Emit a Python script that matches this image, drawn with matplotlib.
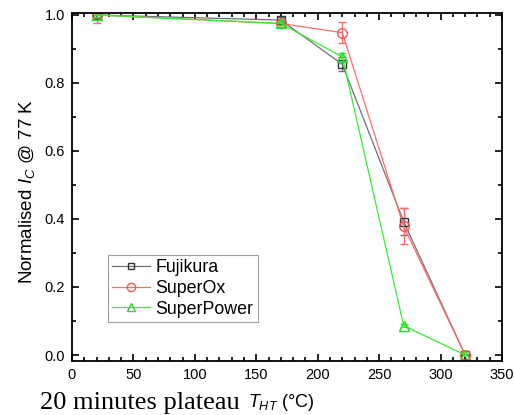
import matplotlib
matplotlib.use("Agg")
import matplotlib.pyplot as plt
from matplotlib.ticker import MultipleLocator
from matplotlib.lines import Line2D

plt.rcParams['font.family'] = ['Liberation Sans', 'DejaVu Sans']
plt.rcParams['mathtext.fontset'] = 'custom'
plt.rcParams['mathtext.it'] = 'Liberation Sans:italic'
plt.rcParams['mathtext.rm'] = 'Liberation Sans'

temps = [20, 170, 220, 270, 320]
fujikura = [1.0, 0.985, 0.855, 0.392, 0.0]
fujikura_err = [0.01, 0.01, 0.02, 0.04, 0.0]
superox = [1.0, 0.975, 0.948, 0.378, 0.0]
superox_err = [0.025, 0.01, 0.03, 0.053, 0.0]
superpower = [1.0, 0.975, 0.877, 0.086, 0.0]
superpower_err = [0.005, 0.005, 0.01, 0.005, 0.0]

names = ['Fujikura', 'SuperOx', 'SuperPower']
series = [fujikura, superox, superpower]
errors = [fujikura_err, superox_err, superpower_err]
line_colors = ['#707070', '#ff6b6b', '#33ee33']
edge_colors = ['#333333', '#ff5555', '#22dd22']
markers = ['s', 'o', '^']
sizes = [6, 7, 7]

fig = plt.figure(figsize=(5.14, 4.15), dpi=100)
ax = fig.add_axes([72/514, 1-361/415, 430/514, 348/415])

handles = []
for name, y, e, lc, ec, m, ms in zip(names, series, errors, line_colors, edge_colors, markers, sizes):
    ax.errorbar(temps, y, yerr=e, color=lc, marker=m, mfc='none', mec=ec, ms=ms, lw=0.9,
                capsize=3, elinewidth=0.9)
    handles.append(Line2D([], [], color=lc, marker=m, mfc='none', mec=ec, ms=ms - 1, lw=0.9,
                          label=name))

ax.set_xlim(0, 350)
ax.set_ylim(-6/340, 1 + 2/340)
ax.xaxis.set_major_locator(MultipleLocator(50))
ax.xaxis.set_minor_locator(MultipleLocator(10))
ax.yaxis.set_major_locator(MultipleLocator(0.2))
ax.yaxis.set_minor_locator(MultipleLocator(0.1))
ax.yaxis.set_major_formatter(plt.FuncFormatter(lambda v, p: f"{v:.1f}"))
ax.tick_params(which='both', direction='in', top=True, right=True, labelsize=10.5, width=1.2)
ax.tick_params(which='major', length=5, pad=5)
ax.tick_params(which='minor', length=3)
for s in ax.spines.values():
    s.set_linewidth(1.3)

fig.text(27/514, 1-192/415, r'Normalised $I_C$ @ 77 K', fontsize=13.5, rotation=90,
         va='center', ha='center')

leg = ax.legend(handles=handles, loc='lower left', bbox_to_anchor=(108/514, 1-322/415),
                bbox_transform=fig.transFigure, borderaxespad=0, fontsize=12.8, frameon=True,
                fancybox=False, edgecolor='#888888', handlelength=2.1, borderpad=0.25,
                labelspacing=0.2, handletextpad=0.3)
leg.get_frame().set_linewidth(0.8)

fig.text(40/514, 1-403/415, '20 minutes plateau', family='Liberation Serif', fontsize=19,
         va='center', ha='left')
fig.text(248/514, 1-402/415, r'$T_{HT}$ (°C)', fontsize=13, va='center', ha='left')

fig.savefig('out.png', dpi=100)
